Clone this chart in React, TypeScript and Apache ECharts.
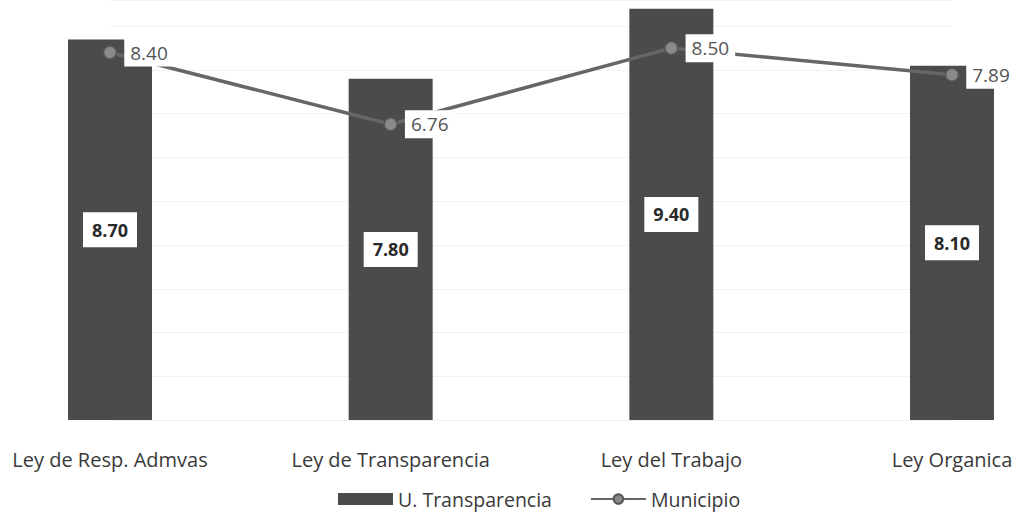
import React, { useEffect, useRef } from "react";
import * as echarts from "echarts";

const categories = ["Ley de Resp. Admvas", "Ley de Transparencia", "Ley del Trabajo", "Ley Organica"];
const transparenciaValues = [8.7, 7.8, 9.4, 8.1];
const municipioValues = [8.4, 6.76, 8.5, 7.89];
const seriesNames = ["U. Transparencia", "Municipio"];

export default function App() {
  const ref = useRef<HTMLDivElement>(null);
  useEffect(() => {
    if (!ref.current) return;
    const chart = echarts.init(ref.current, null, { renderer: "svg" });
    const font = "Open Sans";
    chart.setOption({
      animation: false,
      backgroundColor: "#ffffff",
      grid: { left: 110, right: 66, top: 0, bottom: 102 },
      xAxis: {
        type: "category",
        data: categories,
        boundaryGap: false,
        axisLine: { show: false },
        axisTick: { show: false },
        axisLabel: { color: "#3a3a3a", fontSize: 20, fontFamily: font, margin: 29 },
        splitLine: { show: false },
      },
      yAxis: {
        type: "value",
        min: 0,
        max: 9.6,
        interval: 1,
        axisLine: { show: false },
        axisTick: { show: false },
        axisLabel: { show: false },
        splitLine: { show: true, lineStyle: { color: "#f2f2f2", width: 1 } },
      },
      legend: {
        left: 333,
        top: 484,
        itemWidth: 55,
        itemHeight: 12,
        itemGap: 38,
        textStyle: { color: "#3a3a3a", fontSize: 19.5, fontFamily: font },
        data: [
          { name: seriesNames[0], icon: "rect" },
          { name: seriesNames[1] },
        ],
      },
      series: [
        {
          name: seriesNames[0],
          type: "bar",
          data: transparenciaValues,
          barWidth: 84,
          itemStyle: { color: "#4b4b4b" },
          label: {
            show: true,
            position: "inside",
            formatter: (p: any) => p.value.toFixed(2),
            color: "#2a2a2a",
            fontWeight: "bold",
            fontSize: 18,
            fontFamily: font,
            backgroundColor: "#ffffff",
            padding: [9, 9, 8, 9],
          },
          z: 2,
        },
        {
          name: seriesNames[1],
          type: "line",
          data: municipioValues,
          symbol: "circle",
          symbolSize: 13,
          lineStyle: { color: "#666666", width: 3.5 },
          itemStyle: { color: "#8a8a8a", borderColor: "#555555", borderWidth: 1.5 },
          label: {
            show: true,
            position: "right",
            distance: 7,
            formatter: (p: any) => p.value.toFixed(2),
            color: "#555555",
            fontSize: 19,
            fontFamily: font,
            backgroundColor: "#ffffff",
            padding: [5, 6, 4, 6],
          },
          z: 3,
        },
      ],
    });
    return () => chart.dispose();
  }, []);
  return <div ref={ref} style={{ width: 1018, height: 522, position: "absolute", left: 0, top: 0 }} />;
}
